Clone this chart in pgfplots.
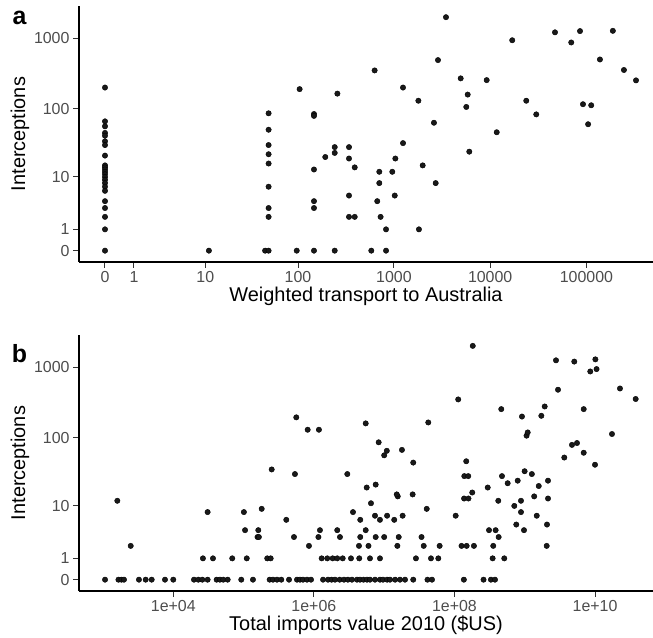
\documentclass[border=0pt]{standalone}
\usepackage{fontspec}
\setmainfont{Liberation Sans}
\usepackage{pgfplots}
\pgfplotsset{compat=1.18}

\definecolor{ticktext}{HTML}{4D4D4D}
\definecolor{tickline}{HTML}{333333}

\pgfplotsset{
  panel/.style={
    scale only axis, width=574bp, height=256bp,
    anchor=south west,
    axis x line*=bottom, axis y line*=left,
    axis line style={-, line width=1.1bp, black},
    tick align=outside, major tick length=6bp,
    every tick/.style={line width=1bp, tickline},
    tick label style={font=\fontsize{16}{18}\selectfont, ticktext},
    /pgf/number format/assume math mode=true,
    label style={font=\fontsize{20}{22}\selectfont},
    ylabel={Interceptions},
    ylabel style={yshift=-2bp},
    xlabel style={yshift=3bp},
    y filter/.expression={log10(y+1)},
    ymin=-0.16, ymax=3.455,
    ytick={0,0.30103,1.04139,2.00432,3.00043},
    yticklabels={0,1,10,100,1000},
    minor tick num=0,
  },
  dots/.style={only marks, mark=*, mark size=2.7bp, mark options={draw=none, fill=black!90}},
}

\begin{document}
\begin{tikzpicture}
\path[use as bounding box] (0,0) rectangle (653bp,638bp);

% panel a: weighted transport
\begin{axis}[panel, at={(79bp,376bp)},
  x filter/.expression={log10(x+1)},
  xmin=-0.27, xmax=5.691,
  xtick={0,0.30103,1.04139,2.00432,3.00043,4.00004,5},
  xticklabels={0,1,10,100,1000,10000,100000},
  xlabel={Weighted transport to Australia},
]
\addplot[dots] table {
x y
0 200
0 66
0 56
0 45
0 41
0 34
0 30
0 21
0 15
0 14
0 13
0 12
0 11
0 10
0 9
0 8
0 7
0 6
0 4
0 3
0 2
0 1
0 0
11 0
45 0
49 86
49 50
49 30
49 22
49 16
49 7
49 3
49 2
49 0
97 0
104 190
147 84
147 79
147 13
147 4
147 3
147 0
193 20
242 28
242 23
242 0
258 164
341 28
341 19
341 5
341 2
391 14
391 2
582 0
630 350
705 12
705 8
671 4
727 2
828 1
828 0
962 12
1035 19
1020 5
1243 200
1243 32
1795 130
1820 1
1990 15
2606 63
2716 8
2870 490
3475 1980
4940 270
5840 159
5650 106
6070 24
9200 255
11700 46
16950 935
23700 130
30100 83
47100 1210
69500 870
85700 1260
92000 116
112000 112
104000 60
138000 500
188000 1270
245000 355
327000 253
};
\end{axis}

% panel b: total imports
\begin{axis}[panel, at={(79bp,47bp)},
  xmode=log, log basis x=10,
  xmin=456, xmax=6.67e10,
  xtick={1e4,1e6,1e8,1e10},
  xticklabels={1e+04,1e+06,1e+08,1e+10},
  xlabel={Total imports value 2010 (\$US)},
]
\addplot[dots] table {
x y
1.07e3 0
1.66e3 0
1.83e3 0
1.99e3 0
3.25e3 0
4.05e3 0
4.93e3 0
7.62e3 0
1.0e4 0
1.97e4 0
2.27e4 0
2.59e4 0
3.08e4 0
4.14e4 0
4.61e4 0
5.14e4 0
5.94e4 0
9.27e4 0
1.36e5 0
2.35e5 0
2.62e5 0
2.99e5 0
3.44e5 0
4.43e5 0
5.75e5 0
6.34e5 0
7.0e5 0
7.98e5 0
9.1e5 0
1.35e6 0
1.59e6 0
1.79e6 0
2.0e6 0
2.33e6 0
2.68e6 0
3.05e6 0
3.48e6 0
4.10e6 0
4.53e6 0
5.08e6 0
5.69e6 0
6.28e6 0
7.40e6 0
8.71e6 0
9.61e6 0
1.10e7 0
1.21e7 0
1.43e7 0
1.68e7 0
1.98e7 0
2.59e7 0
4.13e7 0
4.79e7 0
1.36e8 0
2.59e8 0
3.30e8 0
3.77e8 0
2.64e4 1
3.67e4 1
6.90e4 1
1.11e5 1
2.17e5 1
2.43e5 1
1.29e6 1
1.55e6 1
1.85e6 1
2.15e6 1
2.57e6 1
3.37e6 1
4.42e6 1
6.28e6 1
8.71e6 1
2.83e7 1
4.63e7 1
5.89e7 1
3.49e8 1
5.11e8 1
2.48e3 2
8.51e5 2
4.38e6 2
5.98e6 2
1.54e7 2
3.65e7 2
6.15e7 2
1.26e8 2
1.49e8 2
1.89e8 2
3.56e8 2
2.05e9 2
1.58e5 3
1.65e5 3
5.21e5 3
1.16e6 3
2.35e6 3
4.57e6 3
7.57e6 3
1.0e7 3
1.61e7 3
3.40e7 3
4.25e8 3
1.05e5 4
1.62e5 4
1.22e6 4
2.15e6 4
5.46e6 4
3.10e8 4
3.85e8 4
9.75e8 4
7.57e8 5
2.07e9 5
4.05e5 6
4.57e6 6
8.71e6 6
1.39e7 6
7.40e6 7
1.10e7 7
1.83e7 7
1.04e8 7
1.48e9 7
3.08e4 8
1.01e5 8
3.60e6 8
8.83e8 8
1.81e5 9
4.03e7 9
7.10e8 10
6.49e6 11
1.60e3 12
4.20e8 12
8.83e8 12
1.37e8 13
1.58e8 13
2.14e9 13
1.56e7 14
1.36e9 14
1.51e7 15
2.54e7 15
1.79e8 16
5.64e6 19
2.97e8 19
1.58e9 20
7.57e6 21
5.71e8 22
7.93e8 24
2.14e9 24
1.38e8 28
1.57e8 28
4.74e8 28
5.38e5 30
2.99e6 30
1.26e9 30
9.95e8 33
2.51e5 35
9.98e9 41
2.59e7 44
1.47e8 46
3.65e9 52
1.0e7 56
6.89e9 61
1.09e7 65
1.79e7 67
4.69e9 79
5.53e9 84
8.35e6 86
1.06e9 107
1.74e10 113
1.10e9 119
8.16e5 130
1.18e6 130
5.46e6 160
4.24e7 165
5.62e5 195
9.12e8 200
1.72e9 205
4.63e8 255
6.89e9 255
1.92e9 278
1.13e8 350
3.78e10 355
2.97e9 480
2.26e10 500
8.55e9 870
1.05e10 940
5.06e9 1200
2.78e9 1250
1.01e10 1290
1.82e8 2000
};
\end{axis}

\node[font=\fontsize{25}{28}\selectfont\bfseries] at (19.5bp,620bp) {a};
\node[font=\fontsize{25}{28}\selectfont\bfseries] at (19.5bp,284bp) {b};
\end{tikzpicture}
\end{document}
